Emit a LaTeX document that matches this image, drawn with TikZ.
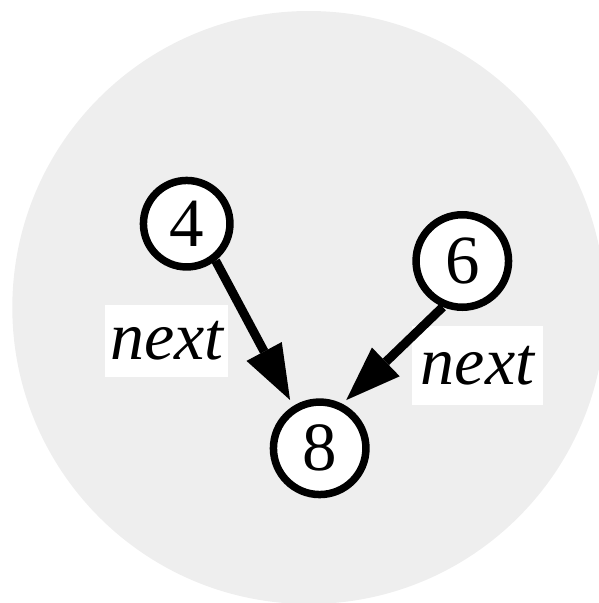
\documentclass[tikz,border=0pt]{standalone}
\usepackage{fontspec}
\setmainfont{Liberation Serif}
\usetikzlibrary{arrows.meta}
\definecolor{disc}{RGB}{238,238,238}
\begin{document}
\begin{tikzpicture}[x=1pt,y=-1pt,
  vertex/.style={circle,draw=black,fill=white,line width=7.5pt,inner sep=0pt,
    font=\fontsize{69}{80}\selectfont},
  tag/.style={fill=white,inner sep=0pt,font=\fontsize{68}{80}\selectfont\itshape},
  link/.style={line width=9pt,-{Triangle[length=55pt,width=40pt,line width=0pt]}}]
\useasboundingbox (0,0) rectangle (599,603);
% background disc, cut by the page edge
\begin{scope}
  \clip (0,0) rectangle (599,603);
  \fill[disc] (308.8,307.5) circle[radius=296.5pt];
\end{scope}
% edge labels
\node[tag,minimum width=123pt,minimum height=72pt] (l1) at (166.7,340.5) {next};
\node[tag,minimum width=131pt,minimum height=79pt] (l2) at (477.5,365.5) {next};
% list cells
\node[vertex,minimum size=86.5pt] (n4) at (186.7,223.7) {4};
\node[vertex,minimum size=92.5pt] (n6) at (462.3,261) {6};
\node[vertex,minimum size=92.5pt] (n8) at (319.7,448.3) {8};
% next pointers
\draw[link,shorten >=6.7pt] (n4.-52) -- (n8.122);
\draw[link,shorten >=5.3pt] (n6.-113.5) -- (n8.63);
\end{tikzpicture}
\end{document}
